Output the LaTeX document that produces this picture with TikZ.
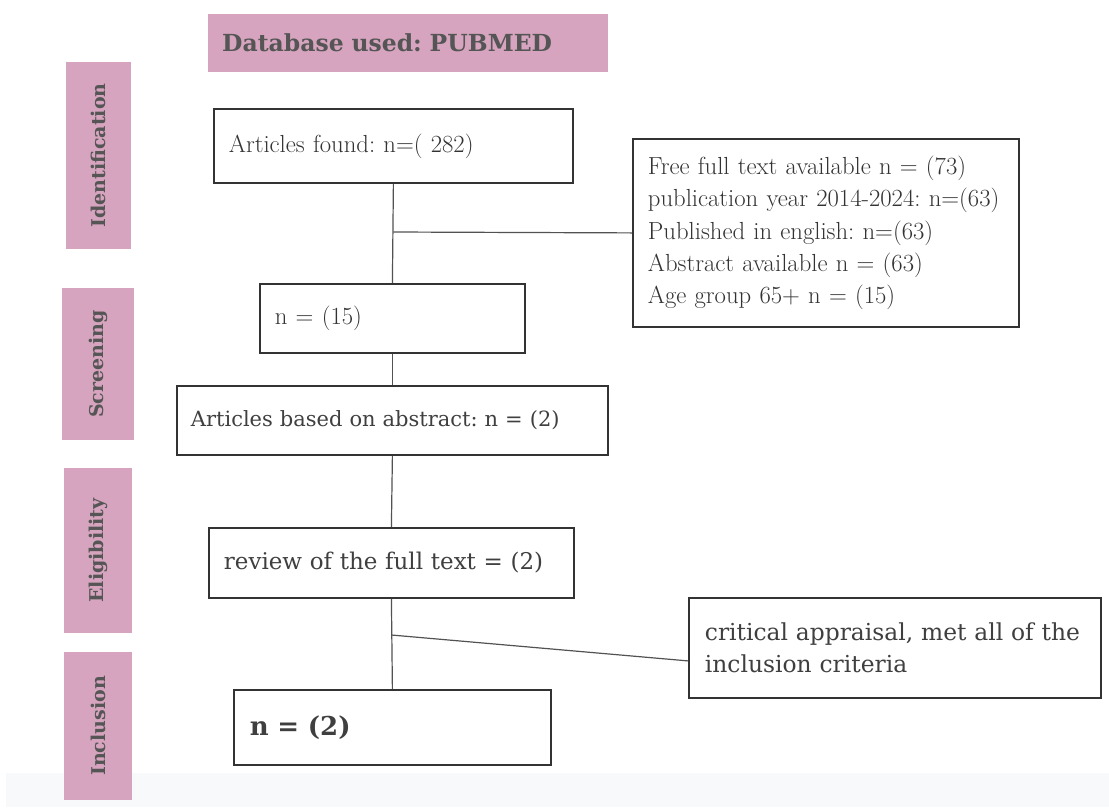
\documentclass[tikz,border=0pt]{standalone}
\usepackage{fontspec}
\newfontfamily\lorafont{DejaVu Serif}
\frenchspacing
\definecolor{phase}{HTML}{D6A4BE}
\definecolor{phasetext}{HTML}{555555}
\definecolor{inktext}{HTML}{3F3F3F}
\definecolor{boxline}{HTML}{333333}
\definecolor{band}{HTML}{F8F9FB}

\begin{document}
\begin{tikzpicture}[x=1pt,y=-1pt,
    stagelabel/.style={fill=phase, text=phasetext, rotate=90, inner sep=0pt,
      font=\lorafont\bfseries\fontsize{19}{22}\selectfont},
    flowbox/.style={draw=boxline, line width=1.8pt, text=inktext, align=left,
      anchor=north west, inner xsep=15pt, inner ysep=0pt,
      font=\lorafont\fontsize{21}{25}\selectfont},
    link/.style={draw=boxline!85, line width=1.2pt}]
  % Canvas
  \useasboundingbox (0,0) rectangle (1109,807);
  \fill[band] (6,773) rectangle (1109,807);

  % Header
  \node[fill=phase, text=phasetext, anchor=north west, inner sep=0pt,
    minimum width=400pt, minimum height=58pt, text width=372pt, align=left,
    font=\lorafont\bfseries\fontsize{23.5}{27}\selectfont] (db) at (208,14)
    {Database used: PUBMED};

  % Phase labels on the left
  \node[stagelabel, minimum width=187pt, minimum height=65pt] (ident) at (98.5,155.5) {Identification};
  \node[stagelabel, minimum width=152pt, minimum height=72pt] (screen) at (98,364) {Screening};
  \node[stagelabel, minimum width=165pt, minimum height=68pt] (elig) at (98,550.5) {Eligibility};
  \node[stagelabel, minimum width=148pt, minimum height=68pt] (incl) at (98,726) {Inclusion};

  % Main flow
  \node[flowbox, text width=329pt, minimum height=74pt, text=black!80,
    font=\fontsize{24.7}{28}\selectfont] (found) at (213,108) {Articles found: n=( 282)};
  \node[flowbox, text width=235pt, minimum height=69pt, text=black!80,
    font=\fontsize{24.7}{28}\selectfont] (fifteen) at (259,283) {n = (15)};
  \node[flowbox, text width=403pt, minimum height=69pt, inner xsep=14pt,
    font=\lorafont\fontsize{21}{25}\selectfont] (abstr) at (176,385) {Articles based on abstract: n = (2)};
  \node[flowbox, text width=335pt, minimum height=70pt,
    font=\lorafont\fontsize{23}{26}\selectfont] (review) at (208,527) {review of the full text = (2)};
  \node[flowbox, text width=285pt, minimum height=75pt, inner xsep=16pt,
    font=\lorafont\bfseries\fontsize{26}{31}\selectfont] (final) at (233,689) {n = (2)};

  % Side boxes
  \node[flowbox, text width=360pt, minimum height=188pt, inner xsep=13pt, text=black!80,
    font=\fontsize{24.7}{32.2}\selectfont] (filters) at (632,138)
    {\hspace*{2pt}Free full text available n = (73)\\
     \hspace*{2pt}publication year 2014-2024: n=(63)\\
     \hspace*{2pt}Published in english: n=(63)\\
     \hspace*{2pt}Abstract available n = (63)\\
     \hspace*{2pt}Age group 65+ n = (15)};
  \node[flowbox, text width=380pt, minimum height=100pt, inner xsep=16pt,
    font=\lorafont\fontsize{23.4}{32}\selectfont] (crit) at (688,597)
    {critical appraisal, met all of the\\ inclusion criteria};

  % Connectors
  \coordinate (lvl1) at (0,232);
  \coordinate (lvl2) at (0,635);
  \coordinate (cut1) at (found.south |- lvl1);
  \coordinate (cut2) at (review.south |- lvl2);
  \draw[link] (found.south) -- (fifteen.north);
  \draw[link] (cut1) -- (filters.west);
  \draw[link] (fifteen.south) -- (abstr.north);
  \draw[link] (abstr.south) -- (review.north);
  \draw[link] (review.south) -- (final.north);
  \draw[link] (cut2) -- ([yshift=-13pt]crit.west);
\end{tikzpicture}
\end{document}
